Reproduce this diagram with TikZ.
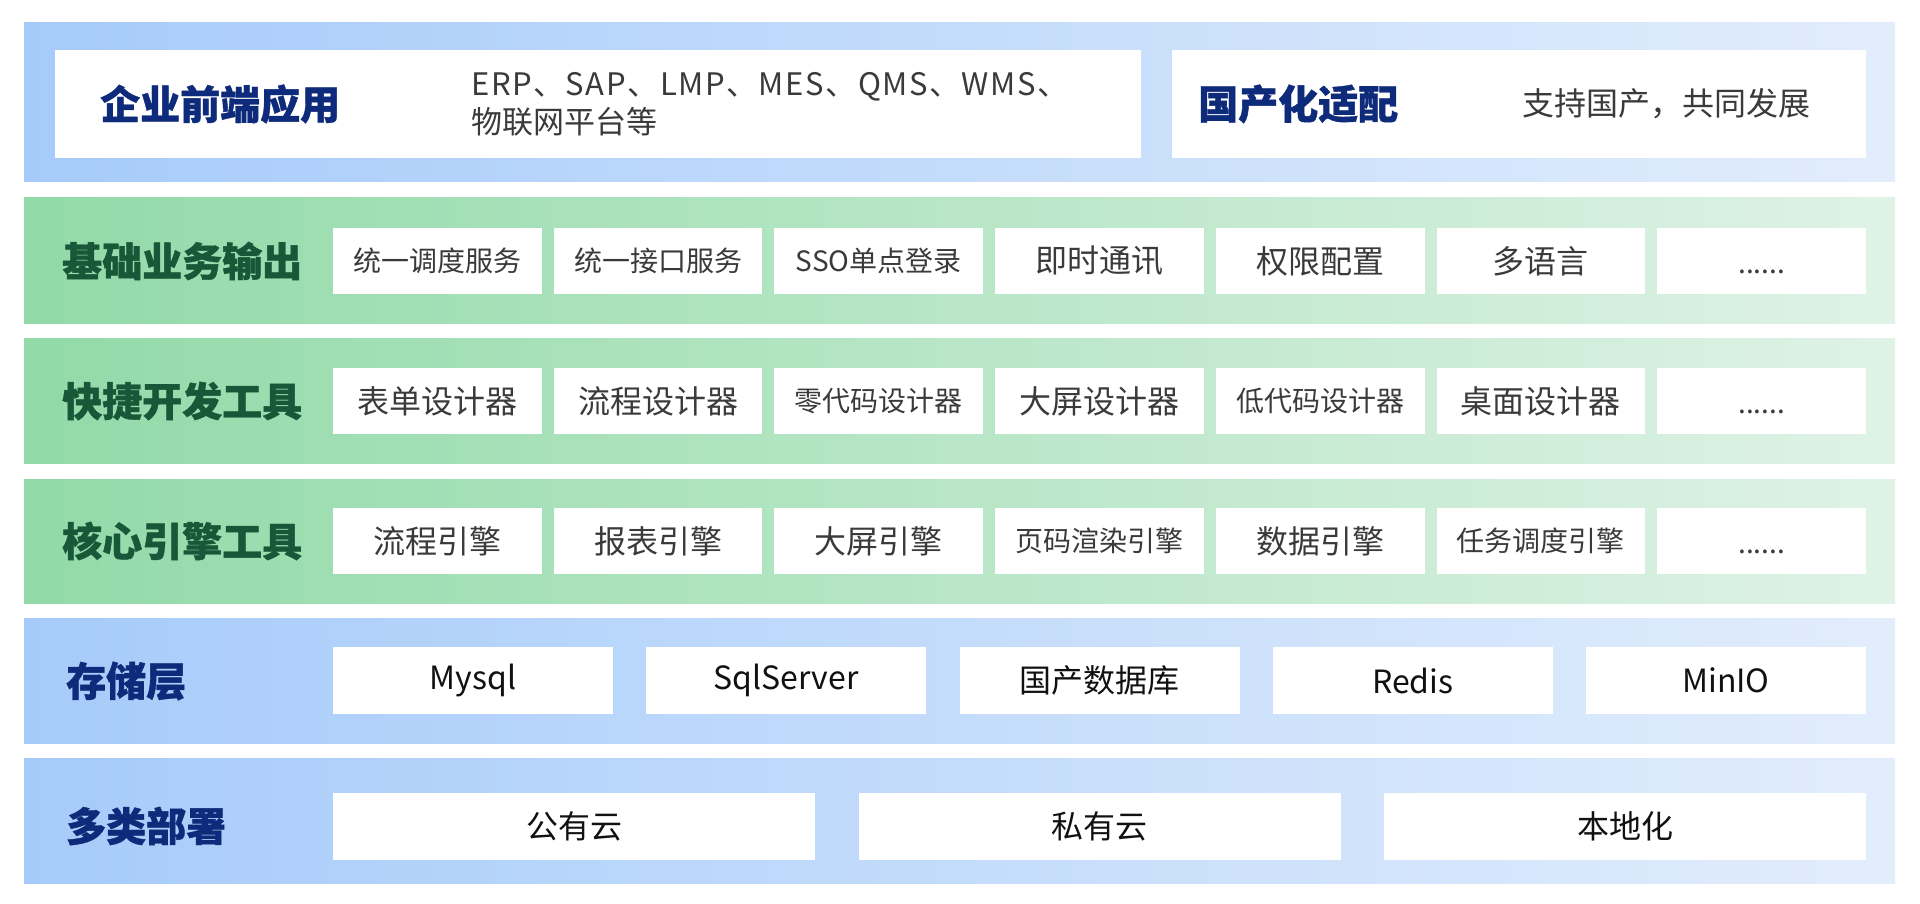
\documentclass[tikz,border=0pt]{standalone}
\usepackage{fontspec}
\setmainfont{Noto Sans CJK SC}
\definecolor{blueL}{RGB}{166,203,250}
\definecolor{blueR}{RGB}{226,237,252}
\definecolor{greenL}{RGB}{146,218,168}
\definecolor{greenR}{RGB}{223,242,230}
\definecolor{navy}{RGB}{14,42,122}
\definecolor{dgreen}{RGB}{24,88,56}
\definecolor{txt}{RGB}{58,58,58}
\definecolor{txtb}{RGB}{17,17,17}
\newcommand\sixdots{\vphantom{中}\raisebox{-2pt}{......}}
\tikzset{
  bandb/.style={left color=blueL, right color=blueR, draw=none, inner sep=0pt, outer sep=0pt, anchor=north west, minimum width=1871pt},
  bandg/.style={left color=greenL, right color=greenR, draw=none, inner sep=0pt, outer sep=0pt, anchor=north west, minimum width=1871pt},
  cell/.style={fill=white, draw=none, inner sep=0pt, outer sep=0pt, text=txt},
  gtitle/.style={anchor=west, inner sep=0pt, text=dgreen, font=\fontsize{40}{48}\selectfont\bfseries\addfontfeature{FakeBold=1}},
  btitle/.style={anchor=west, inner sep=0pt, text=navy, font=\fontsize{40}{48}\selectfont\bfseries\addfontfeature{FakeBold=1}},
}
\begin{document}
\begin{tikzpicture}[x=1pt,y=-1pt]
\useasboundingbox[fill=white] (0,0) rectangle (1920,904);
% bands
\node[bandb, minimum height=159pt] (b1) at (24,23) {};
\node[bandg, minimum height=125pt] (b2) at (24,198) {};
\node[bandg, minimum height=125pt] (b3) at (24,338) {};
\node[bandg, minimum height=124pt] (b4) at (24,479) {};
\node[bandb, minimum height=125pt] (b5) at (24,618) {};
\node[bandb, minimum height=125pt] (b6) at (24,758) {};
% top row
\node[cell, minimum width=1086pt, minimum height=108pt] (tl) at (598,104) {};
\node[cell, minimum width=694pt, minimum height=108pt] (tr) at (1519,104) {};
\node[btitle] (t1) at (100,104) {企业前端应用};
\node[anchor=west, inner sep=0pt, text=txt, align=left, font=\fontsize{31}{38}\selectfont] (t1d) at (471,104) {\addfontfeature{LetterSpace=5}ERP、SAP、LMP、MES、QMS、WMS、\\物联网平台等};
\node[btitle] (t2) at (1198,104) {国产化适配};
\node[anchor=west, inner sep=0pt, text=txt, font=\fontsize{32}{38}\selectfont] (t2d) at (1522,104) {支持国产，共同发展};
% row 2
\node[gtitle] (r2t) at (62,261) {基础业务输出};
\foreach \s/\t [count=\i from 0] in {28/统一调度服务,28/统一接口服务,28/SSO单点登录,32/即时通讯,32/权限配置,32/多语言,28/\sixdots}
  \node[cell, minimum width=208.7pt, minimum height=66pt, font=\fontsize{\s}{\s}\selectfont] (r2c\i) at ({437.35+220.7*\i},261) {\t};
% row 3
\node[gtitle] (r3t) at (62,401) {快捷开发工具};
\foreach \s/\t [count=\i from 0] in {32/表单设计器,32/流程设计器,28/零代码设计器,32/大屏设计器,28/低代码设计器,32/桌面设计器,28/\sixdots}
  \node[cell, minimum width=208.7pt, minimum height=66pt, font=\fontsize{\s}{\s}\selectfont] (r3c\i) at ({437.35+220.7*\i},401) {\t};
% row 4
\node[gtitle] (r4t) at (62,541) {核心引擎工具};
\foreach \s/\t [count=\i from 0] in {32/流程引擎,32/报表引擎,32/大屏引擎,28/页码渲染引擎,32/数据引擎,28/任务调度引擎,28/\sixdots}
  \node[cell, minimum width=208.7pt, minimum height=66pt, font=\fontsize{\s}{\s}\selectfont] (r4c\i) at ({437.35+220.7*\i},541) {\t};
% row 5
\node[btitle] (r5t) at (66,681) {存储层};
\foreach \t [count=\i from 0] in {Mysql,SqlServer,国产数据库,Redis,MinIO}
  \node[cell, text=txtb, minimum width=280pt, minimum height=67pt, font=\fontsize{32}{32}\selectfont] (r5c\i) at ({473+313.25*\i},680.5) {\t};
% row 6
\node[btitle] (r6t) at (66,826) {多类部署};
\foreach \t [count=\i from 0] in {公有云,私有云,本地化}
  \node[cell, text=txtb, minimum width=482pt, minimum height=67pt, font=\fontsize{32}{32}\selectfont] (r6c\i) at ({574+525.5*\i},826.5) {\t};
\end{tikzpicture}
\end{document}
